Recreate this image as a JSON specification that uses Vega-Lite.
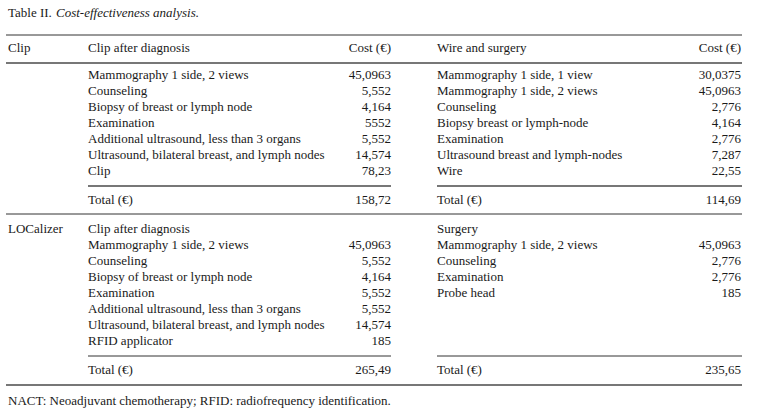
{
  "$schema": "https://vega.github.io/schema/vega-lite/v6.json",
  "width": 758,
  "height": 415,
  "padding": 0,
  "autosize": {"type": "none"},
  "background": "white",
  "config": {"view": {"stroke": null}, "text": {"font": "Liberation Serif", "fontSize": 13, "color": "#1a1a1a", "baseline": "middle"}},
  "datasets": {
    "cells": [
      {"line": 2, "col": 1, "text": "Clip"},
      {"line": 2, "col": 3, "text": "Clip after diagnosis"},
      {"line": 2, "col": 4, "text": "Cost (€)"},
      {"line": 2, "col": 5, "text": "Wire and surgery"},
      {"line": 2, "col": 6, "text": "Cost (€)"},
      {"line": 4, "col": 3, "text": "Mammography 1 side, 2 views"},
      {"line": 4, "col": 4, "text": "45,0963"},
      {"line": 5, "col": 3, "text": "Counseling"},
      {"line": 5, "col": 4, "text": "5,552"},
      {"line": 6, "col": 3, "text": "Biopsy of breast or lymph node"},
      {"line": 6, "col": 4, "text": "4,164"},
      {"line": 7, "col": 3, "text": "Examination"},
      {"line": 7, "col": 4, "text": "5552"},
      {"line": 8, "col": 3, "text": "Additional ultrasound, less than 3 organs"},
      {"line": 8, "col": 4, "text": "5,552"},
      {"line": 9, "col": 3, "text": "Ultrasound, bilateral breast, and lymph nodes"},
      {"line": 9, "col": 4, "text": "14,574"},
      {"line": 10, "col": 3, "text": "Clip"},
      {"line": 10, "col": 4, "text": "78,23"},
      {"line": 4, "col": 5, "text": "Mammography 1 side, 1 view"},
      {"line": 4, "col": 6, "text": "30,0375"},
      {"line": 5, "col": 5, "text": "Mammography 1 side, 2 views"},
      {"line": 5, "col": 6, "text": "45,0963"},
      {"line": 6, "col": 5, "text": "Counseling"},
      {"line": 6, "col": 6, "text": "2,776"},
      {"line": 7, "col": 5, "text": "Biopsy breast or lymph-node"},
      {"line": 7, "col": 6, "text": "4,164"},
      {"line": 8, "col": 5, "text": "Examination"},
      {"line": 8, "col": 6, "text": "2,776"},
      {"line": 9, "col": 5, "text": "Ultrasound breast and lymph-nodes"},
      {"line": 9, "col": 6, "text": "7,287"},
      {"line": 10, "col": 5, "text": "Wire"},
      {"line": 10, "col": 6, "text": "22,55"},
      {"line": 12, "col": 3, "text": "Total (€)"},
      {"line": 12, "col": 4, "text": "158,72"},
      {"line": 12, "col": 5, "text": "Total (€)"},
      {"line": 12, "col": 6, "text": "114,69"},
      {"line": 14, "col": 1, "text": "LOCalizer"},
      {"line": 14, "col": 3, "text": "Clip after diagnosis"},
      {"line": 14, "col": 5, "text": "Surgery"},
      {"line": 15, "col": 3, "text": "Mammography 1 side, 2 views"},
      {"line": 15, "col": 4, "text": "45,0963"},
      {"line": 16, "col": 3, "text": "Counseling"},
      {"line": 16, "col": 4, "text": "5,552"},
      {"line": 17, "col": 3, "text": "Biopsy of breast or lymph node"},
      {"line": 17, "col": 4, "text": "4,164"},
      {"line": 18, "col": 3, "text": "Examination"},
      {"line": 18, "col": 4, "text": "5,552"},
      {"line": 19, "col": 3, "text": "Additional ultrasound, less than 3 organs"},
      {"line": 19, "col": 4, "text": "5,552"},
      {"line": 20, "col": 3, "text": "Ultrasound, bilateral breast, and lymph nodes"},
      {"line": 20, "col": 4, "text": "14,574"},
      {"line": 21, "col": 3, "text": "RFID applicator"},
      {"line": 21, "col": 4, "text": "185"},
      {"line": 15, "col": 5, "text": "Mammography 1 side, 2 views"},
      {"line": 15, "col": 6, "text": "45,0963"},
      {"line": 16, "col": 5, "text": "Counseling"},
      {"line": 16, "col": 6, "text": "2,776"},
      {"line": 17, "col": 5, "text": "Examination"},
      {"line": 17, "col": 6, "text": "2,776"},
      {"line": 18, "col": 5, "text": "Probe head"},
      {"line": 18, "col": 6, "text": "185"},
      {"line": 23, "col": 3, "text": "Total (€)"},
      {"line": 23, "col": 4, "text": "265,49"},
      {"line": 23, "col": 5, "text": "Total (€)"},
      {"line": 23, "col": 6, "text": "235,65"},
      {"line": 25, "col": 1, "text": "NACT: Neoadjuvant chemotherapy; RFID: radiofrequency identification."}
    ],
    "titleParts": [
      {"line": 0, "col": 1, "text": "Table II.", "part": "label"},
      {"line": 0, "col": 2, "text": "Cost-effectiveness analysis.", "part": "caption"}
    ],
    "lightRules": [
      {"line": 1, "from": 0, "to": 7},
      {"line": 13, "from": 0, "to": 7},
      {"line": 22, "from": 3, "to": 4},
      {"line": 22, "from": 5, "to": 7}
    ],
    "heavyRules": [
      {"line": 3, "from": 0, "to": 7},
      {"line": 11, "from": 3, "to": 4},
      {"line": 11, "from": 5, "to": 7},
      {"line": 24, "from": 0, "to": 7}
    ]
  },
  "encoding": {
    "y": {"field": "line", "type": "quantitative", "axis": null,
      "scale": {"domain": [0,1,2,3,4,5,6,7,8,9,10,11,12,13,14,15,16,17,18,19,20,21,22,23,24,25],
                "range": [13,35,48,63,75,91,107,123,139,155,171,186,200,214,229,245,261,277,293,309,325,341,356,370,385,401],
                "zero": false, "nice": false}}
  },
  "layer": [
    {
      "data": {"name": "lightRules"},
      "mark": {"type": "rule", "color": "#333333", "strokeWidth": 1},
      "encoding": {
        "x": {"field": "from", "type": "quantitative", "axis": null,
          "scale": {"domain": [0,1,2,3,4,5,6,7], "range": [6,8,56,88,391,437,741,742], "zero": false, "nice": false}},
        "x2": {"field": "to"}
      }
    },
    {
      "data": {"name": "heavyRules"},
      "mark": {"type": "rule", "color": "#777777", "strokeWidth": 2},
      "encoding": {
        "x": {"field": "from", "type": "quantitative", "axis": null},
        "x2": {"field": "to"}
      }
    },
    {
      "data": {"name": "cells"},
      "transform": [{"filter": "datum.col == 1 || datum.col == 3 || datum.col == 5"}],
      "mark": {"type": "text", "align": "left"},
      "encoding": {
        "x": {"field": "col", "type": "quantitative", "axis": null},
        "text": {"field": "text"}
      }
    },
    {
      "data": {"name": "cells"},
      "transform": [{"filter": "datum.col == 4 || datum.col == 6"}],
      "mark": {"type": "text", "align": "right"},
      "encoding": {
        "x": {"field": "col", "type": "quantitative", "axis": null},
        "text": {"field": "text"}
      }
    },
    {
      "data": {"name": "titleParts"},
      "transform": [{"filter": "datum.part == 'label'"}],
      "mark": {"type": "text", "align": "left"},
      "encoding": {
        "x": {"field": "col", "type": "quantitative", "axis": null},
        "text": {"field": "text"}
      }
    },
    {
      "data": {"name": "titleParts"},
      "transform": [{"filter": "datum.part == 'caption'"}],
      "mark": {"type": "text", "align": "left", "fontStyle": "italic"},
      "encoding": {
        "x": {"field": "col", "type": "quantitative", "axis": null},
        "text": {"field": "text"}
      }
    }
  ]
}
